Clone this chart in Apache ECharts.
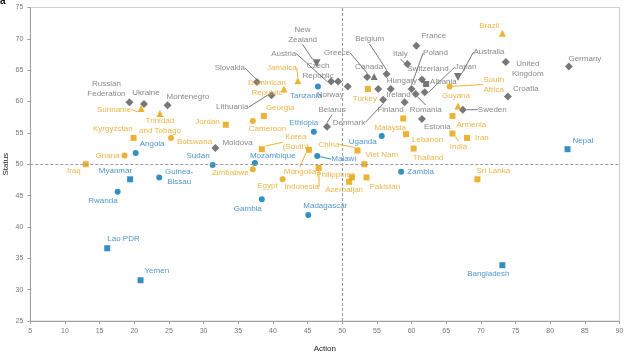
<!DOCTYPE html>
<html><head><meta charset="utf-8">
<script src="https://cdn.jsdelivr.net/npm/echarts@6/dist/echarts.min.js"></script>
<style>html,body{margin:0;padding:0;background:#fff}#c{width:624px;height:358px}</style>
</head><body><div id="c"></div>
<script>
// ---- data: [country, action, status] ----
const greyDiamond = [
  ['Russian Federation',19.3,59.9],['Ukraine',21.4,59.6],['Montenegro',24.8,59.4],
  ['Slovakia',37.7,63.1],['Lithuania',39.8,61.0],['Moldova',31.7,52.6],['Belarus',47.8,56.0],
  ['Austria',48.4,63.2],['Czech Republic',49.4,63.2],['Norway',50.8,62.4],['Greece',53.6,63.9],
  ['Belgium',56.4,64.4],['Hungary',57.0,62.0],['Ireland',55.2,62.0],['Denmark',55.9,60.3],
  ['Finland',59.0,59.9],['Italy',59.4,66.0],['France',60.7,68.9],['Poland',60.0,62.0],
  ['Switzerland',61.5,63.5],['Japan',61.9,61.5],['Romania',60.6,61.2],['Estonia',61.5,57.2],
  ['Sweden',67.4,58.7],['United Kingdom',73.6,66.3],['Croatia',73.9,60.8],['Germany',82.7,65.6]
];
const greyDownTriangle = [['New Zealand',46.3,66.1],['Australia',66.7,63.9]];
const greyUpTriangle = [['Canada',54.6,64.0]];
const greySquare = [['Albania',62.1,62.8]];
const orangeTriangle = [
  ['Suriname',21.0,58.9],['Trinidad and Tobago',23.7,58.1],['Jamaica',43.6,63.3],
  ['Dominican Republic',41.6,62.0],['Guyana',66.7,59.3],['Brazil',73.1,70.9]
];
const orangeCircle = [
  ['Botswana',25.3,54.2],['Ghana',18.6,51.4],['Cameroon',37.1,56.9],['Zimbabwe',37.1,49.2],
  ['Egypt',41.4,47.6],['South Africa',65.5,62.4]
];
const orangeSquare = [
  ['Kyrgyzstan',19.9,54.2],['Iraq',13.0,50.0],['Jordan',33.2,56.3],['Georgia',38.7,57.7],
  ['Korea (South)',38.4,52.4],['Mongolia',45.2,52.3],['Indonesia',46.6,49.4],['China',52.2,52.2],
  ['Viet Nam',53.2,50.0],['Philippines',51.4,47.9],['Azerbaijan',51.0,47.2],['Pakistan',53.5,47.9],
  ['Turkey',53.7,62.0],['Malaysia',58.8,57.3],['Lebanon',59.2,54.8],['Thailand',60.3,52.5],
  ['Armenia',65.9,57.7],['India',65.9,54.9],['Iran',68.0,54.2],['Sri Lanka',69.5,47.6]
];
const blueCircle = [
  ['Angola',20.2,51.8],['Guinea-Bissau',23.6,47.9],['Rwanda',17.6,45.6],['Sudan',31.3,49.9],
  ['Mozambique',37.4,50.2],['Ethiopia',45.9,55.2],['Tanzania',46.5,62.4],['Malawi',46.4,51.3],
  ['Uganda',55.7,54.5],['Zambia',58.5,48.8],['Gambia',38.4,44.4],['Madagascar',45.1,41.9]
];
const blueSquare = [
  ['Myanmar',19.4,47.6],['Lao PDR',16.1,36.6],['Yemen',20.9,31.5],['Nepal',82.5,52.4],['Bangladesh',73.1,33.9]
];
const xTicks = {min:5, max:90, step:5};
const yTicks = {min:25, max:75, step:5};
const threshold = 50;

// ---- label display text and placement (layout only) ----
const display = {
  'Russian Federation':'Russian\nFederation','Trinidad and Tobago':'Trinidad\nand Tobago',
  'New Zealand':'New\nZealand','Czech Republic':'Czech\nRepublic','Dominican Republic':'Dominican\nRepublic',
  'Korea (South)':'Korea\n(South)','South Africa':'South\nAfrica','United Kingdom':'United\nKingdom',
  'Guinea-Bissau':'Guinea-\nBissau'
};
// [align, verticalAlign, dx, dy, leaderLine]
const place = {
  'Russian Federation':['center','bottom',-23,-3,0],'Ukraine':['center','bottom',2,-6,0],
  'Montenegro':['left','bottom',-1,-4,0],'Slovakia':['right','middle',-12,-14,1],
  'Lithuania':['right','middle',-23,12,1],'Moldova':['left','middle',7,-5,0],
  'Belarus':['center','middle',5,-17,1],'New Zealand':['center','bottom',-14,-19,1],
  'Austria':['right','middle',-35,-28,1],'Czech Republic':['center','bottom',-20,-1,0],
  'Norway':['right','middle',-4,8,0],'Greece':['center','middle',-30,-24,1],
  'Canada':['center','bottom',-5,-5,0],'Belgium':['center','middle',-17,-35,1],
  'Hungary':['left','bottom',-4,-3,0],'Ireland':['left','middle',8,6,0],
  'Denmark':['right','middle',-18,23,1],'Finland':['right','middle',-1,8,0],
  'Italy':['center','middle',-7,-10,1],'France':['left','bottom',5,-5,0],
  'Poland':['center','middle',24,-36,1],'Switzerland':['center','middle',6,-11,0],
  'Japan':['left','middle',30,-25,1],'Albania':['left','middle',4,-2,0],
  'Romania':['center','middle',10,16,1],'Estonia':['left','top',2,3,0],
  'Australia':['center','middle',31,-25,1],'Sweden':['left','middle',15,0,1],
  'United Kingdom':['center','top',22,-3,0],'Croatia':['left','middle',5,-8,0],
  'Germany':['center','middle',16,-8,0],
  'Brazil':['right','middle',-3,-7,0],'South Africa':['center','middle',44,-2,1],
  'Guyana':['center','bottom',-2,-5,0],'Armenia':['left','middle',4,9,0],
  'India':['center','middle',6,13,1],'Iran':['left','middle',8,0,0],
  'Lebanon':['left','middle',6,6,0],'Thailand':['left','top',-1,4,0],
  'Malaysia':['center','middle',-13,9,0],'Sri Lanka':['left','bottom',-1,-4,0],
  'Turkey':['center','top',-3,5,0],'Jamaica':['center','middle',-16,-13,1],
  'Dominican Republic':['center','middle',-17,-1,0],'Georgia':['left','bottom',2,-3,0],
  'Cameroon':['left','top',-4,3,0],'Jordan':['right','middle',-6,-3,0],
  'Kyrgyzstan':['right','bottom',-1,-4,0],'Trinidad and Tobago':['center','top',0,2,0],
  'Suriname':['right','middle',-10,1,1],'Botswana':['left','middle',6,4,0],
  'Ghana':['right','middle',-5,0,0],'Iraq':['right','middle',-5,7,0],
  'Korea (South)':['center','middle',34,-7,1],'Mongolia':['center','middle',-9,22,1],
  'Indonesia':['center','middle',-17,19,1],'Egypt':['right','middle',-5,6,0],
  'Zimbabwe':['right','middle',-4,4,0],'China':['right','middle',-18,-6,1],
  'Viet Nam':['left','bottom',1,-4,0],'Philippines':['right','middle',3,-3,0],
  'Azerbaijan':['center','top',-5,3,0],'Pakistan':['left','top',3,4,0],
  'Angola':['left','bottom',4,-4,0],'Myanmar':['right','bottom',2,-4,0],
  'Guinea-Bissau':['center','middle',20,-1,0],'Rwanda':['right','top',0,4,0],
  'Lao PDR':['left','bottom',0,-4,0],'Yemen':['left','bottom',4,-4,0],
  'Sudan':['right','bottom',-3,-4,0],'Mozambique':['left','bottom',-5,-2,0],
  'Ethiopia':['center','bottom',-10,-4,0],'Tanzania':['center','top',-12,4,0],
  'Malawi':['left','middle',14,3,1],'Uganda':['right','middle',-5,6,0],
  'Zambia':['left','middle',6,0,0],'Gambia':['right','top',0,4,0],
  'Madagascar':['left','bottom',-5,-4,0],'Nepal':['left','bottom',5,-3,0],
  'Bangladesh':['center','top',-14,4,0]
};

const GREY = '#555555', GREY_TXT = '#6a6a6a';
const ORANGE = '#E69F00', ORANGE_TXT = '#E8A21A';
const BLUE = '#0072B2', BLUE_TXT = '#1F7BBF';
const FONT = 'Liberation Sans';

function items(rows){
  return rows.map(function(r){
    const p = place[r[0]] || ['left','middle',5,0,0];
    return {name:r[0], value:[r[1], r[2]],
      label:{align:p[0], verticalAlign:p[1], offset:[p[2], p[3]]},
      labelLine:{show: !!p[4]}};
  });
}
function series(rows, symbol, size, color, txt, rotate){
  return {
    type:'scatter', symbol:symbol, symbolSize:size, symbolRotate:rotate||0,
    itemStyle:{color:color}, data:items(rows), z:3,
    label:{show:true, position:['50%','50%'], formatter:function(p){return display[p.name]||p.name;},
      color:txt, fontSize:8, fontFamily:FONT, lineHeight:10, textBorderWidth:0},
    labelLine:{show:false, smooth:false, lineStyle:{color:color, width:0.8}},
    emphasis:{disabled:true}
  };
}

const allSeries = [
  series(greyDiamond,'diamond',8,GREY,GREY_TXT),
  series(greyDownTriangle,'triangle',8,GREY,GREY_TXT,180),
  series(greyUpTriangle,'triangle',7,GREY,GREY_TXT),
  series(greySquare,'rect',6,GREY,GREY_TXT),
  series(orangeTriangle,'triangle',7,ORANGE,ORANGE_TXT),
  series(orangeCircle,'circle',6,ORANGE,ORANGE_TXT),
  series(orangeSquare,'rect',6,ORANGE,ORANGE_TXT),
  series(blueCircle,'circle',6,BLUE,BLUE_TXT),
  series(blueSquare,'rect',6,BLUE,BLUE_TXT)
];
allSeries.unshift({
  type:'scatter', data:[], silent:true, z:1,
  markLine:{silent:true, symbol:'none', label:{show:false}, animation:false,
    lineStyle:{color:'#9a9a9a', type:[3,2], width:1},
    data:[{xAxis:threshold},{yAxis:threshold}]}
});

const chart = echarts.init(document.getElementById('c'), null, {renderer:'canvas'});
chart.setOption({
  animation:false,
  backgroundColor:'#fff',
  grid:{left:30.3, right:4.5, top:7.5, bottom:37, containLabel:false, outerBoundsMode:'none',
    show:true, borderColor:'#cfcfcf', borderWidth:1},
  graphic:[{type:'text', left:0, top:-4, style:{text:'a', font:'bold 10px '+FONT, fill:'#111'}}],
  xAxis:{type:'value', min:xTicks.min, max:xTicks.max, interval:xTicks.step,
    name:'Action', nameLocation:'middle', nameGap:24, nameMoveOverlap:false,
    nameTextStyle:{fontSize:8, color:'#222', fontFamily:FONT},
    axisLine:{show:true, lineStyle:{color:'#a0a0a0'}},
    axisTick:{show:true, length:3, lineStyle:{color:'#a0a0a0'}},
    axisLabel:{fontSize:7, color:'#777', fontFamily:FONT, margin:7},
    splitLine:{show:false}},
  yAxis:{type:'value', min:yTicks.min, max:yTicks.max, interval:yTicks.step,
    name:'Status', nameLocation:'middle', nameGap:21, nameMoveOverlap:false,
    nameTextStyle:{fontSize:8, color:'#222', fontFamily:FONT},
    axisLine:{show:true, lineStyle:{color:'#a0a0a0'}},
    axisTick:{show:true, length:3, lineStyle:{color:'#a0a0a0'}},
    axisLabel:{fontSize:7, color:'#777', fontFamily:FONT, margin:7},
    splitLine:{show:false}},
  series:allSeries
});
</script></body></html>
